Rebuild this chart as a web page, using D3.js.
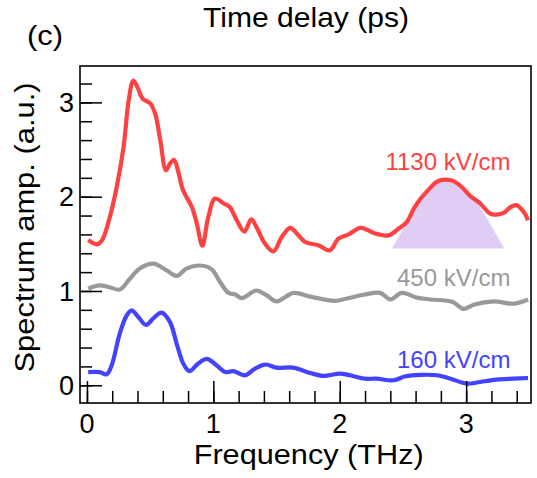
<!DOCTYPE html>
<html lang="en">
<head>
<meta charset="utf-8">
<title>Spectrum amplitude</title>
<script src="https://d3js.org/d3.v7.min.js"></script>
<style>
  body { margin: 0; background: #fff; }
  text { font-family: "Liberation Sans", Arial, sans-serif; }
  .trace { fill: none; stroke-width: 4.2px; stroke-linejoin: round; }
</style>
</head>
<body>
<div id="chart"></div>
<script>
// spectrum traces (frequency in THz, amplitude in a.u.)
var redFreq = [0.01, 0.08, 0.12, 0.18, 0.235, 0.29, 0.33, 0.367, 0.40, 0.44, 0.50, 0.54, 0.58, 0.625, 0.657, 0.69, 0.723, 0.76, 0.83, 0.87, 0.913, 0.96, 1.013, 1.08, 1.13, 1.185, 1.245, 1.30, 1.34, 1.41, 1.475, 1.54, 1.607, 1.66, 1.726, 1.83, 1.92, 1.99, 2.07, 2.16, 2.215, 2.28, 2.385, 2.465, 2.53, 2.585, 2.64, 2.70, 2.77, 2.835, 2.90, 2.967, 3.03, 3.11, 3.19, 3.24, 3.30, 3.35, 3.40, 3.455, 3.49];
var redAmp  = [1.54, 1.495, 1.54, 1.78, 2.10, 2.53, 3.02, 3.23, 3.16, 3.04, 2.99, 2.88, 2.60, 2.28, 2.35, 2.39, 2.26, 2.07, 1.89, 1.71, 1.48, 1.785, 1.98, 1.93, 1.89, 1.75, 1.63, 1.76, 1.68, 1.50, 1.42, 1.57, 1.67, 1.61, 1.52, 1.485, 1.43, 1.555, 1.60, 1.67, 1.65, 1.61, 1.59, 1.66, 1.73, 1.87, 1.98, 2.07, 2.16, 2.18, 2.165, 2.10, 2.01, 1.93, 1.82, 1.81, 1.83, 1.89, 1.91, 1.84, 1.75];

var grayFreq = [0.01, 0.10, 0.18, 0.26, 0.34, 0.42, 0.525, 0.63, 0.71, 0.79, 0.895, 0.987, 1.053, 1.12, 1.17, 1.225, 1.34, 1.42, 1.50, 1.635, 1.766, 1.96, 2.056, 2.19, 2.32, 2.40, 2.49, 2.61, 2.716, 2.89, 2.98, 3.06, 3.22, 3.375, 3.49];
var grayAmp  = [1.025, 1.06, 1.04, 1.015, 1.13, 1.24, 1.29, 1.22, 1.16, 1.24, 1.27, 1.23, 1.095, 0.98, 0.965, 0.925, 1.005, 0.955, 0.89, 0.98, 0.94, 0.895, 0.92, 0.96, 0.98, 0.91, 0.98, 0.93, 0.91, 0.885, 0.81, 0.855, 0.89, 0.865, 0.91];

var blueFreq = [0.01, 0.10, 0.156, 0.195, 0.26, 0.314, 0.354, 0.406, 0.467, 0.525, 0.59, 0.657, 0.71, 0.762, 0.81, 0.88, 0.948, 1.027, 1.093, 1.158, 1.25, 1.33, 1.41, 1.50, 1.63, 1.766, 1.87, 2.0, 2.08, 2.20, 2.29, 2.425, 2.52, 2.64, 2.77, 2.875, 3.006, 3.11, 3.24, 3.375, 3.49];
var blueAmp  = [0.14, 0.14, 0.117, 0.21, 0.55, 0.74, 0.795, 0.725, 0.64, 0.71, 0.77, 0.67, 0.44, 0.23, 0.15, 0.23, 0.28, 0.21, 0.14, 0.15, 0.106, 0.177, 0.22, 0.187, 0.187, 0.13, 0.10, 0.124, 0.106, 0.07, 0.07, 0.053, 0.095, 0.11, 0.106, 0.07, 0.018, 0.035, 0.06, 0.07, 0.077];

// shaded band under the 1130 kV/cm peak
var shadeFreq = [2.412, 2.571, 2.637, 2.70, 2.771, 2.834, 2.898, 2.969, 3.032, 3.088, 3.302];
var shadeAmp  = [1.45, 1.821, 1.972, 2.068, 2.142, 2.174, 2.163, 2.10, 2.025, 1.95, 1.45];

var fieldLabels = ["1130 kV/cm", "450 kV/cm", "160 kV/cm"];
var labelAmp = [2.28, 1.05, 0.18];
var traceColors = ["#ff4141", "#999999", "#4242ff"];

var xMajor = [0, 1, 2, 3];
var yMajor = [0, 1, 2, 3];

var W = 537, H = 478;
var margin = {left: 80, top: 66, right: 6, bottom: 75};
var width = W - margin.left - margin.right,
    height = H - margin.top - margin.bottom;

var x = d3.scaleLinear().domain([-0.055, 3.513]).range([0, width]);
var y = d3.scaleLinear().domain([-0.188, 3.386]).range([height, 0]);

var svg = d3.select("#chart").append("svg")
    .attr("width", W)
    .attr("height", H);

var g = svg.append("g")
    .attr("transform", "translate(" + margin.left + "," + margin.top + ")");

function pairs(fs, as) {
    return fs.map(function(f, i) { return [f, as[i]]; });
}

// shaded area first, traces on top
g.append("path")
    .datum(pairs(shadeFreq, shadeAmp))
    .attr("fill", "#e0cdf5")
    .attr("d", d3.line()
        .x(function(d) { return x(d[0]); })
        .y(function(d) { return y(d[1]); })
        .curve(d3.curveLinear));

var line = d3.line()
    .x(function(d) { return x(d[0]); })
    .y(function(d) { return y(d[1]); })
    .curve(d3.curveCatmullRom.alpha(0.5));

var traces = [pairs(redFreq, redAmp), pairs(grayFreq, grayAmp), pairs(blueFreq, blueAmp)];
traces.forEach(function(t, i) {
    g.append("path")
        .datum(t)
        .attr("class", "trace")
        .attr("stroke", traceColors[i])
        .attr("d", line);
});

fieldLabels.forEach(function(lbl, i) {
    g.append("text")
        .attr("x", x(3.35))
        .attr("y", y(labelAmp[i]))
        .attr("text-anchor", "end")
        .attr("font-size", "24px")
        .attr("fill", traceColors[i])
        .text(lbl);
});

// axes: ticks point inward, minor every 0.2
var xAxis = d3.axisTop(x)
    .tickValues(d3.range(0, 3.41, 0.2))
    .tickSize(12)
    .tickFormat("");
var gx = g.append("g").attr("transform", "translate(0," + height + ")").call(xAxis);
gx.append("g").call(d3.axisTop(x).tickValues(xMajor).tickSize(22).tickFormat(""));

var yAxis = d3.axisRight(y)
    .tickValues(d3.range(0, 3.21, 0.2))
    .tickSize(12)
    .tickFormat("");
var gy = g.append("g").call(yAxis);
gy.append("g").call(d3.axisRight(y).tickValues(yMajor).tickSize(22).tickFormat(""));

g.selectAll(".domain").remove();
g.selectAll(".tick line").attr("stroke", "#000").attr("stroke-width", 1.5);

// tick labels
g.selectAll(".xlab").data(xMajor).enter().append("text")
    .attr("x", function(d) { return x(d); })
    .attr("y", height + 30)
    .attr("text-anchor", "middle")
    .attr("font-size", "27px")
    .text(function(d) { return d; });

g.selectAll(".ylab").data(yMajor).enter().append("text")
    .attr("x", -6)
    .attr("y", function(d) { return y(d); })
    .attr("dy", "0.36em")
    .attr("text-anchor", "end")
    .attr("font-size", "27px")
    .text(function(d) { return d; });

// frame
g.append("rect")
    .attr("width", width)
    .attr("height", height)
    .attr("fill", "none")
    .attr("stroke", "#000")
    .attr("stroke-width", 1.6);

// titles
svg.append("text")
    .attr("x", 308.7).attr("y", 464)
    .attr("text-anchor", "middle")
    .attr("font-size", "27px")
    .attr("textLength", 230).attr("lengthAdjust", "spacingAndGlyphs")
    .text("Frequency (THz)");

svg.append("text")
    .attr("transform", "translate(34,227.5) rotate(-90)")
    .attr("text-anchor", "middle")
    .attr("font-size", "27px")
    .attr("textLength", 290).attr("lengthAdjust", "spacingAndGlyphs")
    .text("Spectrum amp. (a.u.)");

svg.append("text")
    .attr("x", 306).attr("y", 27)
    .attr("text-anchor", "middle")
    .attr("font-size", "28px")
    .attr("textLength", 206).attr("lengthAdjust", "spacingAndGlyphs")
    .text("Time delay (ps)");

svg.append("text")
    .attr("x", 27).attr("y", 45)
    .attr("font-size", "28px")
    .attr("textLength", 36).attr("lengthAdjust", "spacingAndGlyphs")
    .text("(c)");
</script>
</body>
</html>
